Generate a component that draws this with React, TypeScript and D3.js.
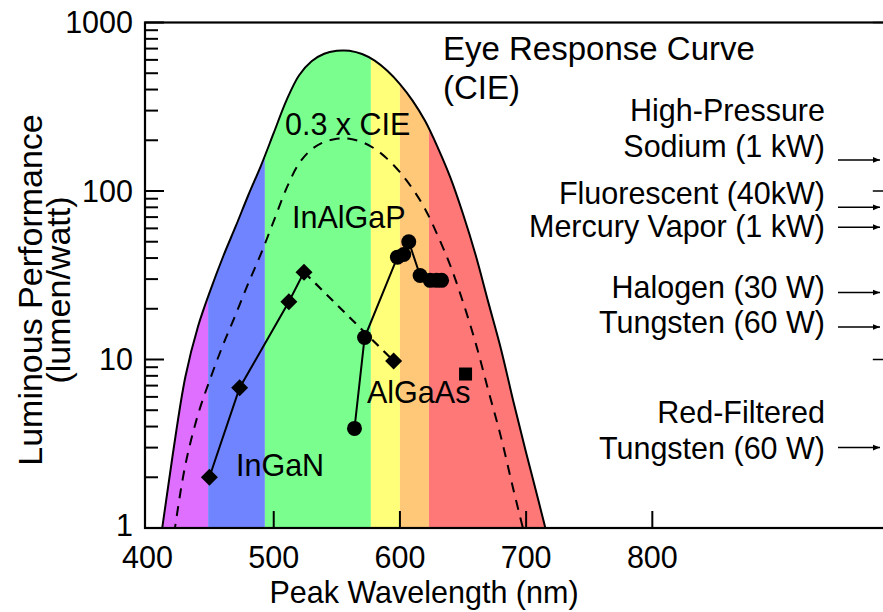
import React from "react";
import * as d3 from "d3";

// Photopic eye response (lm/W) sampled every 10 nm
const cieWavelengths = [400, 410, 420, 430, 440, 450, 460, 470, 480, 490, 500, 510, 520, 530, 540, 550, 555, 560, 570, 580, 590, 600, 610, 620, 630, 640, 650, 660, 670, 680, 690, 700, 710, 720];
const cieValues = [0.27, 0.82, 2.73, 7.9, 15.7, 26, 41, 62, 95, 142, 221, 344, 485, 589, 652, 680, 683, 680, 650, 594, 517, 431, 344, 260, 181, 120, 73, 41.7, 21.9, 11.6, 5.6, 2.8, 1.43, 0.72];
const cieScale = 0.3;

// Spectral colour bands (nm)
const bandEdges = [398, 448, 493, 577, 600, 623, 730];
const bandColors = ["#df70ff", "#7084ff", "#7aff8e", "#ffff7a", "#ffc878", "#ff7878"];

// LED families: [peak wavelength nm, lm/W]
const inGaN = [[449, 2.0], [473, 6.8], [512, 22], [524, 33]];
const inGaNTrend = [[524, 33], [595, 9.8]];
const inAlGaP = [[564, 3.9], [572, 13.5], [598, 40.5], [603, 42], [607, 50], [616, 31.5], [624, 29.5], [629, 29.5], [633, 29.5]];
const alGaAs = [[652, 8.2]];

// Conventional lamps
const lampLabels = [
  ["High-Pressure", "Sodium (1 kW)"],
  ["Fluorescent (40kW)"],
  ["Mercury Vapor (1 kW)"],
  ["Halogen (30 W)"],
  ["Tungsten (60 W)"],
  ["Red-Filtered", "Tungsten (60 W)"],
];
const lampValues = [153, 80, 61, 25, 15.6, 3.0];
const lampLabelShift = [-3, -3, 10, 6, 6, 11];

const xTicks = [400, 500, 600, 700, 800];
const yTicks = [1, 10, 100, 1000];

const W = 883;
const H = 612;
const FONT = "'Liberation Sans', Arial, Helvetica, sans-serif";
const FS = 30.5;

export default function App() {
  const x = d3.scaleLinear().domain([398, 985]).range([145, 885.8]);
  const y = d3.scaleLog().domain([1, 1000]).range([528, 22.5]);
  const [x0, x1] = x.range();
  const [yb, yt] = y.range();

  const cie = cieWavelengths.map((w, i) => [w, cieValues[i]] as [number, number]);
  const line = d3
    .line<[number, number]>()
    .x((d) => x(d[0]))
    .y((d) => y(d[1]))
    .curve(d3.curveCatmullRom);
  const area = d3
    .area<[number, number]>()
    .x((d) => x(d[0]))
    .y0(yb)
    .y1((d) => y(d[1]))
    .curve(d3.curveCatmullRom);
  const cieLow = cie.map(([w, v]) => [w, v * cieScale] as [number, number]);
  const straight = d3
    .line<number[]>()
    .x((d) => x(d[0]))
    .y((d) => y(d[1]));

  const minorTicks: number[] = [];
  for (let e = 0; e < 3; e++) for (let k = 2; k <= 9; k++) minorTicks.push(k * Math.pow(10, e));

  const diamond = (cx: number, cy: number, r: number) =>
    `M${cx},${cy - r}L${cx + r},${cy}L${cx},${cy + r}L${cx - r},${cy}Z`;

  const lampY: number[] = lampValues.map((v) => y(v));

  return (
    <svg width={W} height={H} style={{ position: "absolute", left: 0, top: 0, background: "#fff" }} fontFamily={FONT}>
      <defs>
        <clipPath id="plot">
          <rect x={x0} y={yt} width={x1 - x0} height={yb - yt} />
        </clipPath>
        <clipPath id="eye">
          <path d={area(cie) || ""} />
        </clipPath>
        <marker id="arrow" viewBox="0 0 10 10" refX="10" refY="5" markerWidth="10" markerHeight="7" markerUnits="userSpaceOnUse" orient="auto">
          <path d="M0,1L10,5L0,9Z" fill="#000" />
        </marker>
      </defs>

      <g clipPath="url(#plot)">
        <g clipPath="url(#eye)">
          {bandColors.map((c, i) => (
            <rect key={i} x={x(bandEdges[i])} y={yt} width={x(bandEdges[i + 1]) - x(bandEdges[i])} height={yb - yt} fill={c} />
          ))}
        </g>
        <path d={line(cie) || ""} fill="none" stroke="#000" strokeWidth={2} />
        <path d={line(cieLow) || ""} fill="none" stroke="#000" strokeWidth={2} strokeDasharray="10,8" />
      </g>

      {/* frame */}
      <rect x={x0} y={yt} width={x1 - x0} height={yb - yt} fill="none" stroke="#000" strokeWidth={2.2} />

      {/* left axis ticks */}
      {yTicks.map((t) => (
        <line key={"L" + t} x1={x0} x2={x0 + 19} y1={y(t)} y2={y(t)} stroke="#000" strokeWidth={2} />
      ))}
      {minorTicks.map((t) => (
        <line key={"m" + t} x1={x0} x2={x0 + 13} y1={y(t)} y2={y(t)} stroke="#000" strokeWidth={2} />
      ))}
      {/* right axis ticks */}
      {yTicks.map((t) => (
        <line key={"R" + t} x1={x1} x2={x1 - 13} y1={y(t)} y2={y(t)} stroke="#000" strokeWidth={1.5} />
      ))}
      {/* bottom axis ticks */}
      {xTicks.slice(1).map((t) => (
        <line key={"B" + t} x1={x(t)} x2={x(t)} y1={yb} y2={yb - 17} stroke="#000" strokeWidth={2} />
      ))}

      {/* tick labels */}
      {yTicks.map((t) => (
        <text key={"yl" + t} x={133} y={y(t) - (t === 1 ? 3 : 0)} dy="0.36em" textAnchor="end" fontSize={FS}>
          {t}
        </text>
      ))}
      {xTicks.map((t) => (
        <text key={"xl" + t} x={x(t)} y={568} textAnchor="middle" fontSize={FS}>
          {t}
        </text>
      ))}

      {/* axis titles */}
      <text x={424} y={603} textAnchor="middle" fontSize={FS}>
        Peak Wavelength (nm)
      </text>
      <text transform="translate(42,290) rotate(-90)" textAnchor="middle" fontSize={34}>
        Luminous Performance
      </text>
      <text transform="translate(70,290) rotate(-90)" textAnchor="middle" fontSize={34}>
        (lumen/watt)
      </text>

      {/* LED series */}
      <path d={straight(inGaN) || ""} fill="none" stroke="#000" strokeWidth={2} />
      <path d={straight(inGaNTrend) || ""} fill="none" stroke="#000" strokeWidth={2.2} strokeDasharray="9,7" />
      <path d={straight(inAlGaP) || ""} fill="none" stroke="#000" strokeWidth={2} />
      {[...inGaN, inGaNTrend[1]].map((d, i) => (
        <path key={"d" + i} d={diamond(x(d[0]), y(d[1]), 8.5)} fill="#000" />
      ))}
      {inAlGaP.map((d, i) => (
        <circle key={"c" + i} cx={x(d[0])} cy={y(d[1])} r={7.5} fill="#000" />
      ))}
      {alGaAs.map((d, i) => (
        <rect key={"s" + i} x={x(d[0]) - 6.5} y={y(d[1]) - 6.5} width={13} height={13} fill="#000" />
      ))}

      {/* labels inside the plot */}
      <text x={443} y={60} fontSize={33}>Eye Response Curve</text>
      <text x={443} y={99} fontSize={33}>(CIE)</text>
      <text x={285} y={135} fontSize={FS}>0.3 x CIE</text>
      <text x={292} y={228} fontSize={FS}>InAlGaP</text>
      <text x={236} y={476} fontSize={FS}>InGaN</text>
      <text x={367} y={403} fontSize={FS}>AlGaAs</text>

      {/* lamps */}
      {lampLabels.map((lines, i) => {
        const base = lampY[i] + lampLabelShift[i];
        return (
          <g key={"lamp" + i}>
            {lines.map((s, j) => (
              <text key={j} x={825} y={base - (lines.length - 1 - j) * 36} textAnchor="end" fontSize={FS}>
                {s}
              </text>
            ))}
            <line x1={838} x2={880} y1={lampY[i]} y2={lampY[i]} stroke="#000" strokeWidth={1.5} markerEnd="url(#arrow)" />
          </g>
        );
      })}
    </svg>
  );
}
